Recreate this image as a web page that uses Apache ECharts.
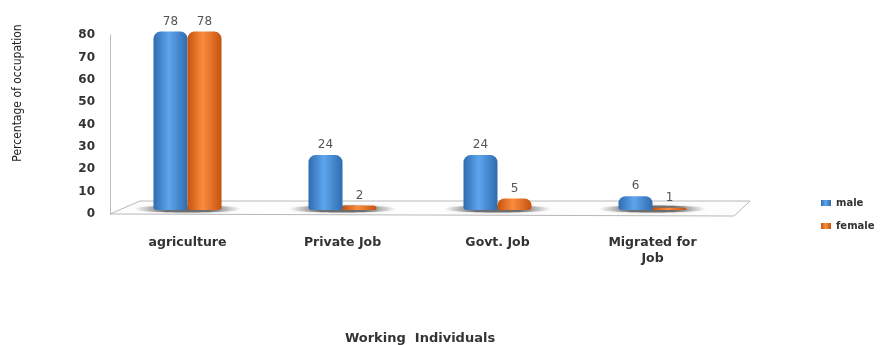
<!DOCTYPE html>
<html>
<head>
<meta charset="utf-8">
<script src="https://cdn.jsdelivr.net/npm/echarts@6/dist/echarts.min.js"></script>
<style>
  html, body { margin: 0; padding: 0; background: #fff; }
  #chart { width: 896px; height: 345px; }
</style>
</head>
<body>
<div id="chart"></div>
<script>
// Occupation of working individuals, by sex (%)
const categories = ['agriculture', 'Private Job', 'Govt. Job', 'Migrated for\nJob'];
const maleValues = [78, 24, 24, 6];
const femaleValues = [78, 2, 5, 1];
const yTicks = [0, 10, 20, 30, 40, 50, 60, 70, 80];
const yTitle = 'Percentage of occupation';

const chart = echarts.init(document.getElementById('chart'), null, { renderer: 'canvas' });

function cylinder(dark, light) {
  return new echarts.graphic.LinearGradient(0, 0, 1, 0, [
    { offset: 0, color: dark },
    { offset: 0.45, color: light },
    { offset: 1, color: dark }
  ]);
}

const boldFont = { fontFamily: 'DejaVu Sans', fontWeight: 'bold', color: '#333' };

chart.setOption({
  animation: false,
  backgroundColor: '#fff',
  color: ['#5f8cc4', '#e08b4e'],
  grid: [
    // axis frame and floor
    { left: 110, right: 166, top: 35, bottom: 131, outerBoundsMode: 'none', containLabel: false },
    // bars stand on the middle of the floor
    { left: 110, right: 166, top: 27, bottom: 135, outerBoundsMode: 'none', containLabel: false }
  ],
  legend: {
    orient: 'vertical',
    left: 816,
    top: 193,
    itemWidth: 10,
    itemHeight: 6,
    itemGap: 13,
    icon: 'rect',
    textStyle: Object.assign({ fontSize: 10 }, boldFont),
    data: ['male', 'female']
  },
  xAxis: [
    {
      type: 'category',
      gridIndex: 0,
      data: categories,
      axisLine: { show: false },
      axisTick: { show: false },
      axisLabel: Object.assign({ fontSize: 12.5, margin: 21, lineHeight: 16 }, boldFont),
      name: 'Working  Individuals',
      nameLocation: 'middle',
      nameGap: 118,
      nameTextStyle: Object.assign({ fontSize: 13 }, boldFont)
    },
    { type: 'category', gridIndex: 1, data: categories, show: false }
  ],
  yAxis: [
    {
      type: 'value',
      gridIndex: 0,
      min: 0,
      max: 80,
      interval: 10,
      axisLine: { show: true, lineStyle: { color: '#bbb' } },
      axisTick: { show: false },
      splitLine: { show: false },
      axisLabel: Object.assign({ fontSize: 12, margin: 15,
        formatter: v => yTicks.includes(v) ? String(v) : '' }, boldFont)
    },
    { type: 'value', gridIndex: 1, min: 0, max: 80, show: false }
  ],
  series: [
    {
      name: 'male',
      type: 'bar',
      xAxisIndex: 1,
      yAxisIndex: 1,
      data: maleValues,
      barWidth: 34,
      barGap: '0%',
      z: 3,
      itemStyle: {
        color: cylinder('#2f6cae', '#5ea5ee'),
        borderRadius: [7, 7, 3, 3]
      },
      label: {
        show: true, position: 'top', distance: 4,
        fontFamily: 'DejaVu Sans', fontSize: 12, color: '#555'
      }
    },
    {
      name: 'female',
      type: 'bar',
      xAxisIndex: 1,
      yAxisIndex: 1,
      data: femaleValues,
      barWidth: 34,
      barGap: '0%',
      z: 3,
      itemStyle: {
        color: cylinder('#c4530f', '#fb8c3e'),
        borderRadius: [7, 7, 3, 3]
      },
      label: {
        show: true, position: 'top', distance: 4,
        fontFamily: 'DejaVu Sans', fontSize: 12, color: '#555'
      }
    }
  ]
});

// perspective floor under the bars, soft contact shadows at each group,
// and the rotated value-axis title
function drawDecor() {
  const p0 = chart.convertToPixel({ gridIndex: 0 }, [0, 0]);
  const left = 110;
  const right = 896 - 166;
  const y = p0[1];
  const items = [
    {
      type: 'polygon',
      z: -1,
      shape: { points: [[left, y], [left + 30, y - 13], [right + 20, y - 13], [right + 4, y + 2]] },
      style: { fill: '#fdfdfd', stroke: '#b8b8b8', lineWidth: 1 }
    },
    {
      type: 'text',
      x: 18,
      y: 93,
      rotation: Math.PI / 2,
      style: {
        text: yTitle,
        fontFamily: "'DejaVu Sans Condensed', 'Liberation Sans', sans-serif",
        fontSize: 12,
        fill: '#222',
        align: 'center',
        verticalAlign: 'middle'
      }
    }
  ];
  categories.forEach((c, i) => {
    const base = chart.convertToPixel({ xAxisIndex: 1, yAxisIndex: 1 }, [i, 0]);
    items.push({
      type: 'ellipse',
      z: 0,
      shape: { cx: base[0], cy: base[1] - 1, rx: 54, ry: 3.5 },
      style: {
        fill: new echarts.graphic.LinearGradient(0, 0, 1, 0, [
          { offset: 0, color: 'rgba(90,90,90,0)' },
          { offset: 0.3, color: 'rgba(40,40,40,0.6)' },
          { offset: 0.7, color: 'rgba(40,40,40,0.6)' },
          { offset: 1, color: 'rgba(90,90,90,0)' }
        ]),
        shadowBlur: 3,
        shadowColor: 'rgba(60,60,60,0.4)'
      }
    });
  });
  chart.setOption({ graphic: items });
}
drawDecor();
</script>
</body>
</html>
